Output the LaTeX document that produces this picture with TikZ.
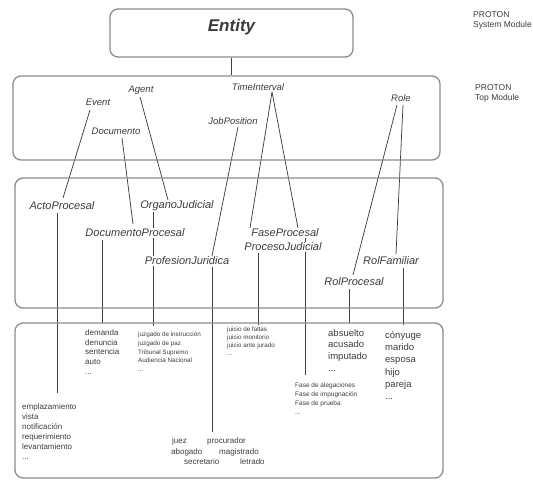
\documentclass[tikz,border=0pt]{standalone}
\usepackage{fontspec}
\setmainfont{Liberation Sans}
\usetikzlibrary{calc,backgrounds}
\definecolor{boxline}{HTML}{8C8C8C}
\definecolor{connc}{HTML}{404040}
\definecolor{txt}{HTML}{3C3C3C}
\begin{document}
\begin{tikzpicture}[x=1pt,y=-1pt,
  modbox/.style={draw=boxline, line width=1.3pt, rounded corners=8pt, inner sep=0pt},
  connector/.style={draw=connc, line width=0.75pt},
  clsa/.style={font=\fontsize{9.5}{11}\selectfont\itshape, text=txt, inner sep=1pt, fill=white},
  clsb/.style={font=\fontsize{11}{13}\selectfont\itshape, text=txt, inner sep=1pt, fill=white},
  lst/.style={align=left, inner sep=0pt, text=txt, anchor=north west},
  wrd/.style={font=\fontsize{8}{10}\selectfont, inner sep=0pt, text=txt, anchor=west},
  note/.style={font=\fontsize{8.5}{10}\selectfont, align=left, inner sep=0pt, text=txt, anchor=north west}
]
\useasboundingbox (0,0) rectangle (533,480);

% module boxes
\node[modbox, minimum width=243pt, minimum height=48pt,
      font=\fontsize{17}{20}\selectfont\bfseries\itshape, text=txt,
      text height=12pt, text depth=16pt] (entity) at (231.5,33) {Entity};
\node[modbox, minimum width=427pt, minimum height=84pt] (topbox) at (226.5,118) {};
\node[modbox, minimum width=428pt, minimum height=130pt] (midbox) at (229,243) {};
\node[modbox, minimum width=428pt, minimum height=155pt] (botbox) at (229,400.5) {};

% side notes
\node[note] (sysnote) at (473,11) {PROTON\\System Module};
\node[note] (topnote) at (475,84) {PROTON\\Top Module};

% PROTON top classes
\node[clsa] (event) at (98,102) {Event};
\node[clsa] (agent) at (141,90) {Agent};
\node[clsa] (docu) at (116,131) {Documento};
\node[clsa] (job) at (233,121) {JobPosition};
\node[clsa] (time) at (258,87) {TimeInterval};
\node[clsa] (role) at (401,98) {Role};

% domain classes
\node[clsb] (acto) at (62,206) {ActoProcesal};
\node[clsb] (org) at (177,206) {OrganoJudicial};
\node[clsb] (docp) at (135,233) {DocumentoProcesal};
\node[clsb] (prof) at (187,261) {ProfesionJuridica};
\node[clsb] (fase) at (285,233) {FaseProcesal};
\node[clsb] (proj) at (283,247) {ProcesoJudicial};
\node[clsb] (rolf) at (391,261) {RolFamiliar};
\node[clsb] (rolp) at (354,282) {RolProcesal};

% instance lists
\node[lst, font=\fontsize{8}{10}\selectfont] (lacto) at (22,403)
  {emplazamiento\\vista\\notificación\\requerimiento\\levantamiento\\...};
\node[lst, font=\fontsize{8}{9.7}\selectfont] (ldoc) at (85,329.5)
  {demanda\\denuncia\\sentencia\\auto\\...};
\node[lst, font=\fontsize{6.3}{8.7}\selectfont] (lorg) at (138,332)
  {juzgado de instrucción\\juzgado de paz\\Tribunal Supremo\\Audiencia Nacional\\...};
\node[lst, font=\fontsize{6.3}{7.8}\selectfont] (lproc) at (227,327)
  {juicio de faltas\\juicio monitorio\\juicio ante jurado\\...};
\node[lst, font=\fontsize{6.5}{8.7}\selectfont] (lfase) at (295,383)
  {Fase de alegaciones\\Fase de impugnación\\Fase de prueba\\...};
\node[lst, font=\fontsize{9.5}{11.8}\selectfont] (lrolp) at (328,329)
  {absuelto\\acusado\\imputado\\...};
\node[lst, font=\fontsize{9.5}{12.3}\selectfont] (lrolf) at (385,331)
  {cónyuge\\marido\\esposa\\hijo\\pareja\\...};

\node[wrd] (juez) at (172,441) {juez};
\node[wrd] (procu) at (207,441) {procurador};
\node[wrd] (abog) at (171,452) {abogado};
\node[wrd] (magis) at (219,452) {magistrado};
\node[wrd] (secre) at (184,462) {secretario};
\node[wrd] (letra) at (240,462) {letrado};

% connectors
\begin{scope}[on background layer]
\draw[connector] (entity.south) -- (entity.south |- topbox.north);
\draw[connector] ($(event)+(-8,8)$) -- ($(acto)+(1,-8)$);
\draw[connector] ($(docu)+(6,7)$) -- ($(docp)+(-2,-9)$);
\draw[connector] ($(agent)+(-1,7)$) -- ($(org)+(-9,-6)$);
\draw[connector] ($(org)+(-24,5)$) -- ($(lorg.north west)+(15,-6)$);
\draw[connector] ($(job)+(5,6)$) -- ($(prof)+(25,-5)$);
\draw[connector] ($(prof)+(25,6)$) -- ($(procu.west)+(5,-9)$);
\draw[connector] ($(time)+(14,5)$) -- ($(fase)+(-35,-5)$);
\draw[connector] ($(time)+(14,5)$) -- ($(fase)+(13,-5)$);
\draw[connector] ($(fase)+(20,5)$) -- ($(lfase.north west)+(10,-8)$);
\draw[connector] ($(proj)+(-25,6)$) -- ($(lproc.north west)+(31,-2)$);
\draw[connector] ($(role)+(-4,7)$) -- ($(rolp)+(-1,-7)$);
\draw[connector] ($(role)+(2,7)$) -- ($(rolf)+(5,-7)$);
\draw[connector] ($(rolp)+(-5,7)$) -- ($(lrolp.north west)+(21,-6)$);
\draw[connector] ($(rolf)+(12,7)$) -- ($(lrolf.north west)+(18,-6)$);
\draw[connector] ($(acto)+(-5,7)$) -- ($(lacto.north west)+(35,-10)$);
\draw[connector] ($(docp)+(-33,7)$) -- ($(ldoc.north west)+(17,-7)$);
\end{scope}
\end{tikzpicture}
\end{document}
